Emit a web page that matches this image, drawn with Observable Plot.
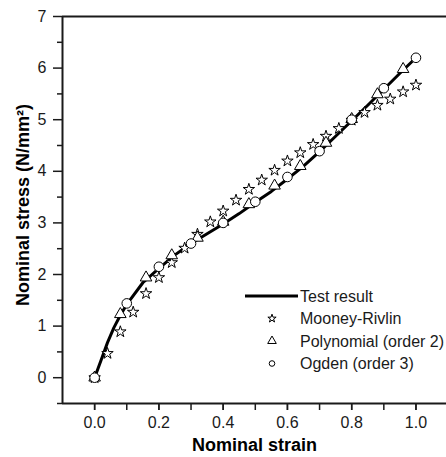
<!DOCTYPE html>
<html><head><meta charset="utf-8">
<script src="https://cdn.jsdelivr.net/npm/d3@7"></script>
<script src="https://cdn.jsdelivr.net/npm/@observablehq/plot@0.6"></script>
<style>
body{margin:0;background:#fff;}
#wrap{position:relative;width:446px;height:457px;font-family:"Liberation Sans",Arial,sans-serif;}
#legend{position:absolute;left:0;top:0;}
</style></head><body><div id="wrap"></div>
<script>
// Test result (solid line)
const testStrain = [0, 0.02, 0.04, 0.06, 0.08, 0.10, 0.15, 0.20, 0.25, 0.30, 0.35, 0.40, 0.45, 0.50, 0.55, 0.60, 0.65, 0.70, 0.75, 0.80, 0.85, 0.90, 0.95, 1.00];
const testStress = [0, 0.34, 0.68, 0.97, 1.21, 1.42, 1.84, 2.12, 2.38, 2.60, 2.79, 2.98, 3.18, 3.40, 3.61, 3.85, 4.10, 4.38, 4.68, 4.98, 5.28, 5.59, 5.90, 6.20];
// Mooney-Rivlin (stars)
const mrStrain = [0, 0.04, 0.08, 0.12, 0.16, 0.20, 0.24, 0.28, 0.32, 0.36, 0.40, 0.44, 0.48, 0.52, 0.56, 0.60, 0.64, 0.68, 0.72, 0.76, 0.80, 0.84, 0.88, 0.92, 0.96, 1.00];
const mrStress = [0, 0.47, 0.89, 1.27, 1.63, 1.94, 2.23, 2.51, 2.78, 3.02, 3.23, 3.44, 3.65, 3.83, 4.02, 4.20, 4.36, 4.52, 4.68, 4.83, 4.99, 5.14, 5.28, 5.40, 5.54, 5.67];
// Polynomial order 2 (triangles)
const polyStrain = [0, 0.08, 0.16, 0.24, 0.32, 0.40, 0.48, 0.56, 0.64, 0.72, 0.80, 0.88, 0.96];
const polyStress = [0, 1.23, 1.94, 2.37, 2.71, 3.02, 3.36, 3.72, 4.10, 4.55, 5.01, 5.49, 5.98];
// Ogden order 3 (circles)
const ogStrain = [0, 0.1, 0.2, 0.3, 0.4, 0.5, 0.6, 0.7, 0.8, 0.9, 1.0];
const ogStress = [0, 1.44, 2.15, 2.60, 3.00, 3.41, 3.89, 4.39, 5.00, 5.61, 6.20];

const xMinorTicks = [0, 0.1, 0.2, 0.3, 0.4, 0.5, 0.6, 0.7, 0.8, 0.9, 1.0];
const xLabelTicks = [0, 0.2, 0.4, 0.6, 0.8, 1.0];
const yMajorTicks = [0, 1, 2, 3, 4, 5, 6, 7];
const yMinorTicks = [-0.5, 0.5, 1.5, 2.5, 3.5, 4.5, 5.5, 6.5];
const seriesNames = ["Test result", "Mooney-Rivlin", "Polynomial (order 2)", "Ogden (order 3)"];
const xTitle = "Nominal strain";
const yTitle = "Nominal stress (N/mm²)";

const zip = (xs, ys) => xs.map((x, i) => ({x, y: ys[i]}));
const test = zip(testStrain, testStress);
const mr = zip(mrStrain, mrStress);
const poly = zip(polyStrain, polyStress);
const og = zip(ogStrain, ogStress);

const font = '"Liberation Sans", Arial, sans-serif';
const chart = Plot.plot({
  width: 446, height: 457,
  marginLeft: 62, marginRight: 0, marginTop: 16, marginBottom: 54,
  style: {fontFamily: font, fontSize: "16px", color: "#1a1a1a", background: "#fff"},
  x: {domain: [-0.1, 1.1], range: [62, 447.6]},
  y: {domain: [-0.5, 7]},
  marks: [
    Plot.axisX({ticks: xMinorTicks, tickSize: 7, text: null, strokeWidth: 1.5, label: null}),
    Plot.axisX({ticks: xLabelTicks, tickSize: 7, tickPadding: 6, tickFormat: d3.format(".1f"), strokeWidth: 1.5, label: null, fontSize: 16}),
    Plot.axisY({ticks: yMinorTicks, tickSize: 5, text: null, strokeWidth: 1.5, label: null}),
    Plot.axisY({ticks: yMajorTicks, tickSize: 9, tickPadding: 7, tickFormat: d3.format("d"), strokeWidth: 1.5, label: null, fontSize: 16}),
    Plot.ruleX([-0.1], {y1: -0.5, y2: 7, strokeWidth: 2}),
    Plot.ruleY([7, -0.5], {x1: -0.1, x2: 1.1, strokeWidth: 2}),
    Plot.line(test, {x: "x", y: "y", stroke: "#000", strokeWidth: 3}),
    Plot.dot(mr, {x: "x", y: "y", symbol: "star", r: 3.6, fill: "#fff", stroke: "#000", strokeWidth: 1}),
    Plot.dot(poly, {x: "x", y: "y", symbol: "triangle", r: 4.3, fill: "#fff", stroke: "#000", strokeWidth: 1}),
    Plot.dot(og, {x: "x", y: "y", symbol: "circle", r: 4.8, fill: "#fff", stroke: "#000", strokeWidth: 1}),
    Plot.text([xTitle], {frameAnchor: "bottom", dy: 47, textAnchor: "middle", lineAnchor: "bottom", fontWeight: "bold", fontSize: 18, fill: "#000"}),
    Plot.text([yTitle], {frameAnchor: "left", dx: -34, dy: -5, rotate: -90, textAnchor: "middle", lineAnchor: "bottom", fontWeight: "bold", fontSize: 18, fill: "#000"})
  ]
});
const wrap = document.getElementById("wrap");
wrap.appendChild(chart);

// Legend overlay
const leg = d3.select(wrap).append("svg").attr("id", "legend").attr("width", 446).attr("height", 457)
  .style("font-family", font).style("font-size", "16px");
const rowsY = [296, 318.5, 341, 363.5];
const symX = 272, textX = 300;
seriesNames.forEach((name, i) => {
  const yy = rowsY[i];
  if (i === 0) {
    leg.append("line").attr("x1", 245).attr("x2", 298).attr("y1", yy).attr("y2", yy).attr("stroke", "#000").attr("stroke-width", 3);
  } else {
    const type = [null, d3.symbolStar, d3.symbolTriangle, d3.symbolCircle][i];
    const rr = [0, 2.6, 3.2, 2.8][i];
    leg.append("path").attr("d", d3.symbol(type, Math.PI * rr * rr)())
      .attr("transform", `translate(${symX},${yy})`).attr("fill", "#fff").attr("stroke", "#000").attr("stroke-width", 1);
  }
  leg.append("text").attr("x", textX).attr("y", yy).attr("dy", "0.35em").attr("fill", "#1a1a1a").text(name);
});
</script></body></html>
